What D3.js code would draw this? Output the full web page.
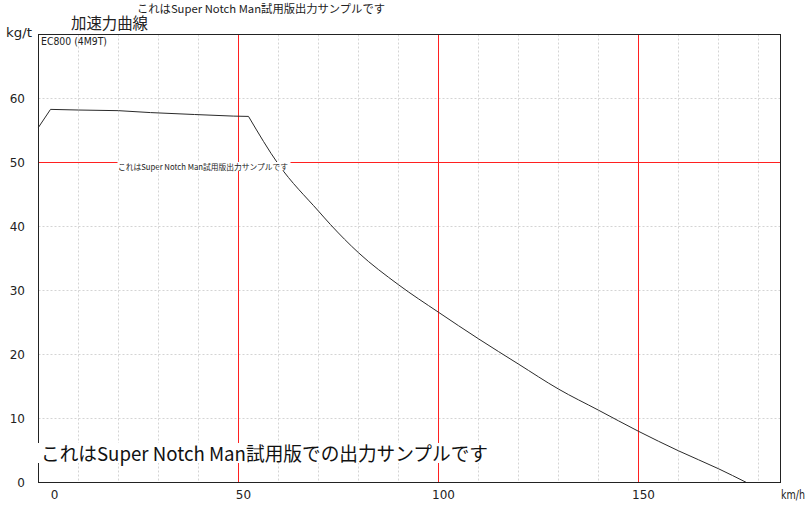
<!DOCTYPE html>
<html><head><meta charset="utf-8">
<script src="https://cdn.jsdelivr.net/npm/d3@7/dist/d3.min.js"></script>
<style>body{margin:0;background:#fff}svg{display:block}</style>
</head><body>
<svg id="c" width="812" height="511"></svg>
<script>
const speeds = [0, 3, 10, 20, 28, 39, 48.7, 52.5, 60, 70, 73, 80, 90, 100, 110, 120, 130, 140, 150, 160, 170, 177];
const force  = [55.5, 58.3, 58.2, 58.1, 57.8, 57.5, 57.25, 57.2, 49.7, 42.4, 40.3, 35.9, 30.9, 26.6, 22.45, 18.5, 14.6, 11.3, 8.0, 4.95, 2.15, 0];
const kneeIndex = 7;
const xTicks = [0, 50, 100, 150];
const yTicks = [0, 10, 20, 30, 40, 50, 60];
const redX = [50, 100, 150];
const redY = [50];
const title = "加速力曲線";
const seriesName = "EC800 (4M9T)";
const xUnit = "km/h", yUnit = "kg/t";
const wmTop = "これはSuper Notch Man試用版出力サンプルです";
const wmMid = "これはSuper Notch Man試用版出力サンプルです";
const wmBottom = "これはSuper Notch Man試用版での出力サンプルです";

const svg = d3.select("#c");
const L = 38.5, R = 780.5, T = 34.5, B = 482.5;
const x = d3.scaleLinear().domain([0, 185.5]).range([L, R]);
const y = d3.scaleLinear().domain([0, 70]).range([B, T]);
const jp = "'Noto Sans CJK JP', sans-serif";
const lab = "'DejaVu Sans', 'Noto Sans CJK JP', sans-serif";

// grid
const g = svg.append("g");
g.selectAll(".gx").data(d3.range(10, 185, 10)).join("line")
  .attr("x1", d => x(d)).attr("x2", d => x(d)).attr("y1", T).attr("y2", B)
  .attr("stroke", "#d4d4d4").attr("stroke-dasharray", "2,2");
g.selectAll(".gy").data(d3.range(10, 70, 10)).join("line")
  .attr("x1", L).attr("x2", R).attr("y1", d => y(d)).attr("y2", d => y(d))
  .attr("stroke", "#d4d4d4").attr("stroke-dasharray", "2,2");
// red reference lines
g.selectAll(".rx").data(redX).join("line")
  .attr("x1", d => x(d)).attr("x2", d => x(d)).attr("y1", T).attr("y2", B)
  .attr("stroke", "#ff2020");
g.selectAll(".ry").data(redY).join("line")
  .attr("x1", L).attr("x2", R).attr("y1", d => y(d)).attr("y2", d => y(d))
  .attr("stroke", "#ff2020");

// curve: flat part linear, decline part smooth
const pts = speeds.map((s, i) => [s, force[i]]);
const flat = pts.slice(0, kneeIndex + 1);
const decline = pts.slice(kneeIndex);
svg.append("path").datum(flat)
  .attr("d", d3.line().x(d => x(d[0])).y(d => y(d[1])))
  .attr("fill", "none").attr("stroke", "#2a2a2a").attr("stroke-width", 1);
svg.append("path").datum(decline)
  .attr("d", d3.line().curve(d3.curveMonotoneX).x(d => x(d[0])).y(d => y(d[1])))
  .attr("fill", "none").attr("stroke", "#2a2a2a").attr("stroke-width", 1);

// mid watermark
svg.append("rect").attr("x", 117.5).attr("y", y(50) - 0.5).attr("width", 173).attr("height", 9).attr("fill", "#fff");
svg.append("text").attr("x", 118).attr("y", 170).attr("font-family", jp).attr("font-size", 8)
  .attr("textLength", 170).attr("lengthAdjust", "spacingAndGlyphs").attr("fill", "#222").text(wmMid);

// frame
svg.append("rect").attr("x", L).attr("y", T).attr("width", R - L).attr("height", B - T)
  .attr("fill", "none").attr("stroke", "#222");

// axes labels
svg.selectAll(".yl").data(yTicks).join("text")
  .attr("x", 25).attr("y", d => y(d) + 4).attr("text-anchor", "end")
  .attr("font-family", lab).attr("font-size", 12).attr("fill", "#222").text(d => d);
const xOff = d => d === 0 ? 16 : 5;
svg.selectAll(".xl").data(xTicks).join("text")
  .attr("x", d => x(d) + xOff(d)).attr("y", 499).attr("text-anchor", "middle")
  .attr("font-family", lab).attr("font-size", 12).attr("fill", "#222").text(d => d);
svg.append("text").attr("x", 781).attr("y", 499).attr("font-family", lab).attr("font-size", 12)
  .attr("textLength", 24).attr("lengthAdjust", "spacingAndGlyphs").attr("fill", "#222").text(xUnit);
svg.append("text").attr("x", 6).attr("y", 37).attr("font-family", lab).attr("font-size", 12)
  .attr("textLength", 26).attr("lengthAdjust", "spacingAndGlyphs").attr("fill", "#222").text(yUnit);

// titles
svg.append("text").attr("x", 71).attr("y", 29).attr("font-family", jp).attr("font-size", 15.5)
  .attr("textLength", 77).attr("lengthAdjust", "spacingAndGlyphs").attr("fill", "#222").text(title);
svg.append("text").attr("x", 137).attr("y", 13).attr("font-family", jp).attr("font-size", 11)
  .attr("textLength", 248).attr("lengthAdjust", "spacingAndGlyphs").attr("fill", "#222").text(wmTop);
svg.append("text").attr("x", 41).attr("y", 45).attr("font-family", lab).attr("font-size", 11)
  .attr("textLength", 66).attr("lengthAdjust", "spacingAndGlyphs").attr("fill", "#222").text(seriesName);

// bottom watermark
svg.append("rect").attr("x", 37).attr("y", 443).attr("width", 453).attr("height", 20).attr("fill", "#fff");
svg.append("text").attr("x", 41).attr("y", 461).attr("font-family", jp).attr("font-size", 19)
  .attr("textLength", 447).attr("lengthAdjust", "spacingAndGlyphs").attr("fill", "#111").text(wmBottom);
</script>
</body></html>
